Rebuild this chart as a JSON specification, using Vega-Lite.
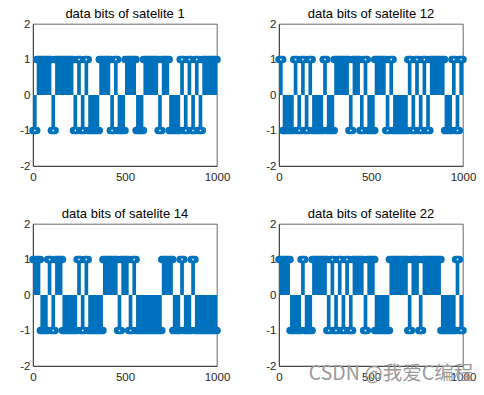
{
"$schema": "https://vega.github.io/schema/vega-lite/v6.json",
"padding": {"left": 19, "top": 7, "right": 5, "bottom": 2},
"title": {"text": "CSDN @我爱C编程", "orient": "bottom", "anchor": "end", "frame": "bounds", "offset": -18, "dx": -3, "font": "Noto Sans CJK SC", "fontSize": 19.5, "fontWeight": "normal", "color": "#9a9a9a", "opacity": 0.85},
"data": {"values": [
{"p":1,"a":0,"b":20,"v":-1},{"p":1,"a":20,"b":100,"v":1},{"p":1,"a":100,"b":120,"v":-1},{"p":1,"a":120,"b":220,"v":1},{"p":1,"a":220,"b":240,"v":-1},{"p":1,"a":240,"b":260,"v":1},{"p":1,"a":260,"b":280,"v":-1},{"p":1,"a":280,"b":300,"v":1},{"p":1,"a":300,"b":360,"v":-1},{"p":1,"a":360,"b":420,"v":1},{"p":1,"a":420,"b":440,"v":-1},{"p":1,"a":440,"b":460,"v":1},{"p":1,"a":460,"b":500,"v":-1},{"p":1,"a":500,"b":560,"v":1},{"p":1,"a":560,"b":600,"v":-1},{"p":1,"a":600,"b":680,"v":1},{"p":1,"a":680,"b":700,"v":-1},{"p":1,"a":700,"b":740,"v":1},{"p":1,"a":740,"b":800,"v":-1},{"p":1,"a":800,"b":820,"v":1},{"p":1,"a":820,"b":840,"v":-1},{"p":1,"a":840,"b":860,"v":1},{"p":1,"a":860,"b":880,"v":-1},{"p":1,"a":880,"b":900,"v":1},{"p":1,"a":900,"b":920,"v":-1},{"p":1,"a":920,"b":1000,"v":1},
{"p":12,"a":0,"b":20,"v":1},{"p":12,"a":20,"b":80,"v":-1},{"p":12,"a":80,"b":100,"v":1},{"p":12,"a":100,"b":120,"v":-1},{"p":12,"a":120,"b":140,"v":1},{"p":12,"a":140,"b":160,"v":-1},{"p":12,"a":160,"b":180,"v":1},{"p":12,"a":180,"b":240,"v":-1},{"p":12,"a":240,"b":260,"v":1},{"p":12,"a":260,"b":300,"v":-1},{"p":12,"a":300,"b":380,"v":1},{"p":12,"a":380,"b":400,"v":-1},{"p":12,"a":400,"b":440,"v":1},{"p":12,"a":440,"b":460,"v":-1},{"p":12,"a":460,"b":480,"v":1},{"p":12,"a":480,"b":520,"v":-1},{"p":12,"a":520,"b":580,"v":1},{"p":12,"a":580,"b":600,"v":-1},{"p":12,"a":600,"b":620,"v":1},{"p":12,"a":620,"b":700,"v":-1},{"p":12,"a":700,"b":720,"v":1},{"p":12,"a":720,"b":740,"v":-1},{"p":12,"a":740,"b":760,"v":1},{"p":12,"a":760,"b":780,"v":-1},{"p":12,"a":780,"b":800,"v":1},{"p":12,"a":800,"b":820,"v":-1},{"p":12,"a":820,"b":900,"v":1},{"p":12,"a":900,"b":940,"v":-1},{"p":12,"a":940,"b":960,"v":1},{"p":12,"a":960,"b":980,"v":-1},{"p":12,"a":980,"b":1000,"v":1},
{"p":14,"a":0,"b":40,"v":1},{"p":14,"a":40,"b":80,"v":-1},{"p":14,"a":80,"b":100,"v":1},{"p":14,"a":100,"b":120,"v":-1},{"p":14,"a":120,"b":160,"v":1},{"p":14,"a":160,"b":240,"v":-1},{"p":14,"a":240,"b":260,"v":1},{"p":14,"a":260,"b":280,"v":-1},{"p":14,"a":280,"b":300,"v":1},{"p":14,"a":300,"b":380,"v":-1},{"p":14,"a":380,"b":460,"v":1},{"p":14,"a":460,"b":480,"v":-1},{"p":14,"a":480,"b":520,"v":1},{"p":14,"a":520,"b":540,"v":-1},{"p":14,"a":540,"b":560,"v":1},{"p":14,"a":560,"b":700,"v":-1},{"p":14,"a":700,"b":760,"v":1},{"p":14,"a":760,"b":800,"v":-1},{"p":14,"a":800,"b":820,"v":1},{"p":14,"a":820,"b":860,"v":-1},{"p":14,"a":860,"b":880,"v":1},{"p":14,"a":880,"b":1000,"v":-1},
{"p":22,"a":0,"b":60,"v":1},{"p":22,"a":60,"b":120,"v":-1},{"p":22,"a":120,"b":140,"v":1},{"p":22,"a":140,"b":180,"v":-1},{"p":22,"a":180,"b":260,"v":1},{"p":22,"a":260,"b":280,"v":-1},{"p":22,"a":280,"b":300,"v":1},{"p":22,"a":300,"b":320,"v":-1},{"p":22,"a":320,"b":340,"v":1},{"p":22,"a":340,"b":360,"v":-1},{"p":22,"a":360,"b":380,"v":1},{"p":22,"a":380,"b":400,"v":-1},{"p":22,"a":400,"b":460,"v":1},{"p":22,"a":460,"b":480,"v":-1},{"p":22,"a":480,"b":520,"v":1},{"p":22,"a":520,"b":600,"v":-1},{"p":22,"a":600,"b":700,"v":1},{"p":22,"a":700,"b":720,"v":-1},{"p":22,"a":720,"b":760,"v":1},{"p":22,"a":760,"b":780,"v":-1},{"p":22,"a":780,"b":880,"v":1},{"p":22,"a":880,"b":960,"v":-1},{"p":22,"a":960,"b":980,"v":1},{"p":22,"a":980,"b":1000,"v":-1}
]},
"columns": 2,
"spacing": {"row": 58, "column": 62},
"bounds": "flush",
"concat": [
{"title": "data bits of satelite 1", "width": 184, "height": 142,
 "transform": [{"filter": "datum.p == 1"}],
 "encoding": {"x": {"field": "a", "type": "quantitative", "scale": {"domain": [0, 1000]}, "axis": {"title": null, "values": [0, 500, 1000], "labelExpr": "'' + datum.value"}}, "x2": {"field": "b"}, "y": {"field": "v", "type": "quantitative", "scale": {"domain": [-2, 2]}, "axis": {"title": null, "values": [-2, -1, 0, 1, 2], "labelExpr": "'' + datum.value"}}},
 "layer": [
  {"mark": {"type": "rect", "color": "#0072BD"}, "encoding": {"y2": {"datum": 0}}},
  {"mark": {"type": "rule", "color": "#0072BD", "strokeWidth": 7.5, "strokeCap": "round"}},
  {"transform": [{"filter": "datum.b - datum.a == 20"}], "mark": {"type": "rule", "color": "white", "strokeWidth": 1.5, "xOffset": 1.1, "x2Offset": -1.1}}
 ]},
{"title": "data bits of satelite 12", "width": 184, "height": 142,
 "transform": [{"filter": "datum.p == 12"}],
 "encoding": {"x": {"field": "a", "type": "quantitative", "scale": {"domain": [0, 1000]}, "axis": {"title": null, "values": [0, 500, 1000], "labelExpr": "'' + datum.value"}}, "x2": {"field": "b"}, "y": {"field": "v", "type": "quantitative", "scale": {"domain": [-2, 2]}, "axis": {"title": null, "values": [-2, -1, 0, 1, 2], "labelExpr": "'' + datum.value"}}},
 "layer": [
  {"mark": {"type": "rect", "color": "#0072BD"}, "encoding": {"y2": {"datum": 0}}},
  {"mark": {"type": "rule", "color": "#0072BD", "strokeWidth": 7.5, "strokeCap": "round"}},
  {"transform": [{"filter": "datum.b - datum.a == 20"}], "mark": {"type": "rule", "color": "white", "strokeWidth": 1.5, "xOffset": 1.1, "x2Offset": -1.1}}
 ]},
{"title": "data bits of satelite 14", "width": 184, "height": 142,
 "transform": [{"filter": "datum.p == 14"}],
 "encoding": {"x": {"field": "a", "type": "quantitative", "scale": {"domain": [0, 1000]}, "axis": {"title": null, "values": [0, 500, 1000], "labelExpr": "'' + datum.value"}}, "x2": {"field": "b"}, "y": {"field": "v", "type": "quantitative", "scale": {"domain": [-2, 2]}, "axis": {"title": null, "values": [-2, -1, 0, 1, 2], "labelExpr": "'' + datum.value"}}},
 "layer": [
  {"mark": {"type": "rect", "color": "#0072BD"}, "encoding": {"y2": {"datum": 0}}},
  {"mark": {"type": "rule", "color": "#0072BD", "strokeWidth": 7.5, "strokeCap": "round"}},
  {"transform": [{"filter": "datum.b - datum.a == 20"}], "mark": {"type": "rule", "color": "white", "strokeWidth": 1.5, "xOffset": 1.1, "x2Offset": -1.1}}
 ]},
{"title": "data bits of satelite 22", "width": 184, "height": 142,
 "transform": [{"filter": "datum.p == 22"}],
 "encoding": {"x": {"field": "a", "type": "quantitative", "scale": {"domain": [0, 1000]}, "axis": {"title": null, "values": [0, 500, 1000], "labelExpr": "'' + datum.value"}}, "x2": {"field": "b"}, "y": {"field": "v", "type": "quantitative", "scale": {"domain": [-2, 2]}, "axis": {"title": null, "values": [-2, -1, 0, 1, 2], "labelExpr": "'' + datum.value"}}},
 "layer": [
  {"mark": {"type": "rect", "color": "#0072BD"}, "encoding": {"y2": {"datum": 0}}},
  {"mark": {"type": "rule", "color": "#0072BD", "strokeWidth": 7.5, "strokeCap": "round"}},
  {"transform": [{"filter": "datum.b - datum.a == 20"}], "mark": {"type": "rule", "color": "white", "strokeWidth": 1.5, "xOffset": 1.1, "x2Offset": -1.1}}
 ]}
],
"config": {
 "font": "Liberation Sans",
 "view": {"stroke": "#262626", "strokeWidth": 0.7},
 "axis": {"grid": false, "ticks": false, "domainColor": "#262626", "domainWidth": 0.7, "labelColor": "#262626", "labelFontSize": 11.5, "labelFont": "Liberation Sans", "labelFlush": false, "labelOverlap": false},
 "axisX": {"labelPadding": 5},
 "axisY": {"labelPadding": 3},
 "title": {"fontSize": 13, "fontWeight": "normal", "font": "Liberation Sans", "color": "#000000", "offset": -3, "anchor": "middle", "frame": "group"}
}
}
